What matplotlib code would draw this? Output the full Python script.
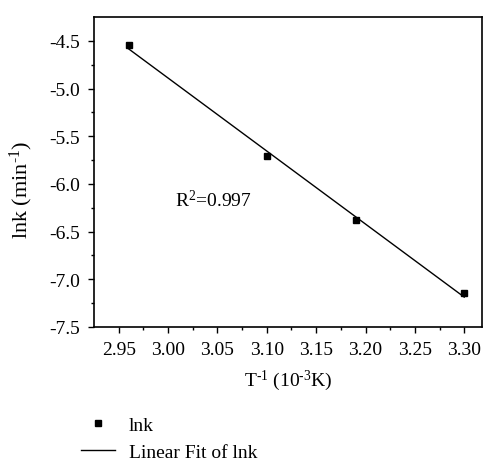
import numpy as np
import matplotlib
matplotlib.use("Agg")
import matplotlib.pyplot as plt

plt.rcParams["font.family"] = ["Liberation Serif", "DejaVu Serif"]
plt.rcParams["mathtext.fontset"] = "custom"
plt.rcParams["mathtext.rm"] = "Liberation Serif"
plt.rcParams["mathtext.it"] = "Liberation Serif:italic"

# data
inv_T = [2.96, 3.10, 3.19, 3.30]
lnk = [-4.54, -5.71, -6.38, -7.14]
r2_text = "R$^{2}$=0.997"

x_ticks = [2.95, 3.00, 3.05, 3.10, 3.15, 3.20, 3.25, 3.30]
y_ticks = [-7.5, -7.0, -6.5, -6.0, -5.5, -5.0, -4.5]

fs = 14

fig = plt.figure(figsize=(5.0, 4.77), dpi=100)
ax = fig.add_axes([0.188, 0.3124, 0.776, 0.6499])

slope, icpt = np.polyfit(inv_T, lnk, 1)
xf = np.array([min(inv_T), max(inv_T)])
ax.plot(inv_T, lnk, "s", color="black", ms=5, label="lnk", zorder=3)
ax.plot(xf, slope * xf + icpt, "-", color="black", lw=1.0, label="Linear Fit of lnk")

ax.set_xlim(2.925, 3.318)
ax.set_ylim(-7.5, -4.25)
ax.set_xticks(x_ticks)
ax.set_xticklabels([f"{v:.2f}" for v in x_ticks])
ax.set_yticks(y_ticks)
ax.set_yticklabels([f"{v:.1f}" for v in y_ticks])
ax.set_xticks([v + 0.025 for v in [2.925] + x_ticks[:-1]], minor=True)
ax.set_yticks([v + 0.25 for v in y_ticks[:-1]], minor=True)

ax.tick_params(which="major", direction="out", length=4.3, width=1,
               labelsize=fs, pad=6)
ax.tick_params(which="minor", direction="out", length=2.5, width=1)
for s in ax.spines.values():
    s.set_linewidth(1.2)

ax.set_xlabel(r"T$^{\text{-1}}$ (10$^{\text{-3}}$K)", fontsize=fs, labelpad=7)
ax.set_ylabel(r"lnk (min$^{\text{-1}}$)", fontsize=16)
ax.yaxis.set_label_coords(-0.152, 0.445)

ax.text(3.007, -6.16, r2_text, fontsize=fs, va="center", ha="left")

fig.legend(loc="upper left", bbox_to_anchor=(0.162, 0.126), frameon=False,
           fontsize=fs, handlelength=1.75, handletextpad=0.7,
           labelspacing=0.5, borderpad=0, borderaxespad=0)

fig.savefig("out.png", dpi=100)
